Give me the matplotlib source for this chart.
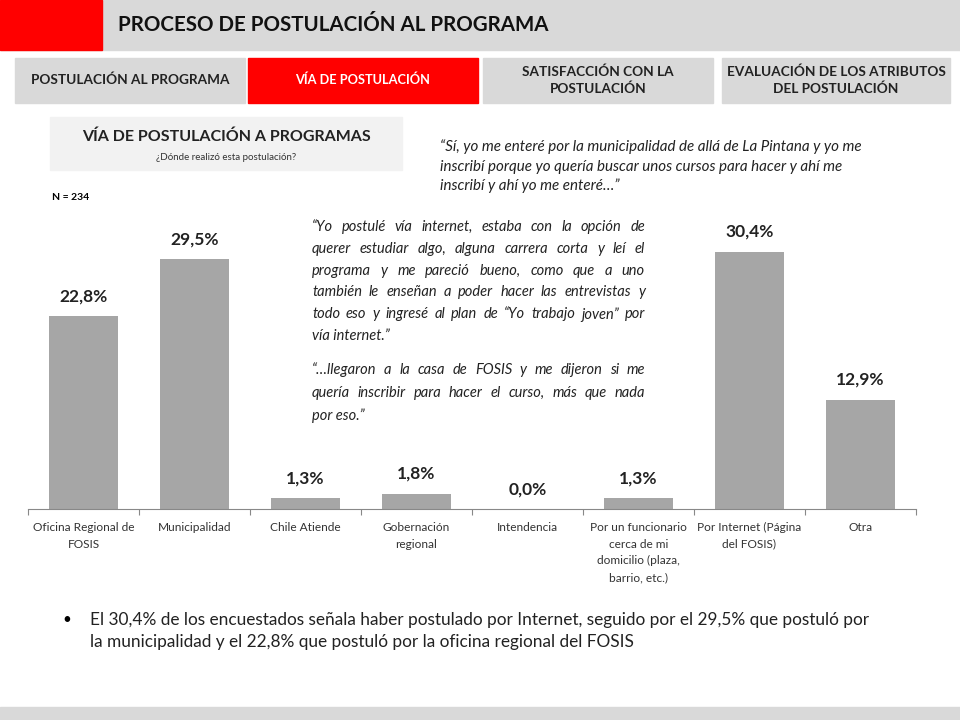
import matplotlib.pyplot as plt
from matplotlib.patches import Rectangle

plt.rcParams['font.family'] = ['Lato', 'DejaVu Sans']

categories = ["Oficina Regional de\nFOSIS", "Municipalidad", "Chile Atiende",
              "Gobernación\nregional", "Intendencia",
              "Por un funcionario\ncerca de mi\ndomicilio (plaza,\nbarrio, etc.)",
              "Por Internet (Página\ndel FOSIS)", "Otra"]
values = [22.8, 29.5, 1.3, 1.8, 0.0, 1.3, 30.4, 12.9]

tabs = ["POSTULACIÓN AL PROGRAMA", "VÍA DE POSTULACIÓN",
        "SATISFACCIÓN CON LA\nPOSTULACIÓN", "EVALUACIÓN DE LOS ATRIBUTOS\nDEL POSTULACIÓN"]

quote_top = ["“Sí, yo me enteré por la municipalidad de allá de La Pintana y yo me",
             "inscribí porque yo quería buscar unos cursos para hacer y ahí me",
             "inscribí y ahí yo me enteré…”"]
quote_mid = ["“Yo postulé vía internet, estaba con la opción de",
             "querer estudiar algo, alguna carrera corta y leí el",
             "programa y me pareció bueno, como que a uno",
             "también le enseñan a poder hacer las entrevistas y",
             "todo eso y ingresé al plan de “Yo trabajo joven” por",
             "vía internet.”"]
quote_low = ["“…llegaron a la casa de FOSIS y me dijeron si me",
             "quería inscribir para  hacer el curso, más que nada",
             "por eso.”"]
bullet_lines = ["El 30,4% de los encuestados señala haber postulado por Internet, seguido por el 29,5% que postuló por",
                "la municipalidad y el 22,8% que postuló por la oficina regional del FOSIS"]

W, H = 960, 720
RED = "#ff0000"
GREY = "#d9d9d9"


def fx(x):
    return x / W


def fy(y):
    return 1 - y / H


def box(fig, x0, y0, x1, y1, color):
    fig.patches.append(Rectangle((fx(x0), fy(y1)), (x1 - x0) / W, (y1 - y0) / H,
                                 transform=fig.transFigure, color=color, zorder=0))


# justified paragraph: spread the words of each line (but the last) across the width
def justified(fig, lines, x0, x1, y0, step, **kw):
    renderer = fig.canvas.get_renderer()
    for i, line in enumerate(lines):
        y = fy(y0 + i * step)
        words = line.split()
        if i == len(lines) - 1 or len(words) < 2:
            fig.text(fx(x0), y, line, va="center", **kw)
            continue
        arts = [fig.text(0, y, w, va="center", **kw) for w in words]
        widths = [a.get_window_extent(renderer).width for a in arts]
        gap = (x1 - x0 - sum(widths)) / (len(words) - 1)
        x = x0
        for a, w in zip(arts, widths):
            a.set_x(fx(x))
            x += w + gap


fig = plt.figure(figsize=(9.6, 7.2), dpi=100)

# header
box(fig, 0, 0, 960, 50, GREY)
box(fig, 0, 0, 102, 50, RED)
fig.text(fx(118), fy(25), "PROCESO DE POSTULACIÓN AL PROGRAMA", fontsize=14.8,
         fontweight="bold", va="center", color="#111111")

# tabs
tab_x = [(15, 245), (248, 478), (483, 713), (722, 950)]
for i, (label, (x0, x1)) in enumerate(zip(tabs, tab_x)):
    active = i == 1
    box(fig, x0, 58, x1, 103, RED if active else GREY)
    fig.text(fx((x0 + x1) / 2), fy(80), label, ha="center", va="center",
             fontsize=9.2 if active else 9.8, fontweight="bold", linespacing=1.45,
             color="white" if active else "#222222")

# subtitle box
box(fig, 50, 117, 402, 170, "#f2f2f2")
fig.text(fx(226), fy(137), "VÍA DE POSTULACIÓN A PROGRAMAS", ha="center", va="center",
         fontsize=11.5, fontweight="bold", color="#222222")
fig.text(fx(226), fy(157), "¿Dónde realizó esta postulación?", ha="center", va="center",
         fontsize=7, color="#333333")
fig.text(fx(52), fy(197), "N = 234", fontsize=7.5, fontweight="bold", va="center")

# quotes
qkw = dict(fontsize=10.5, style="italic", color="#222222")
for i, line in enumerate(quote_top):
    fig.text(fx(440), fy(147 + i * 19.5), line, va="center", fontsize=10.9,
             style="italic", color="#222222")
justified(fig, quote_mid, 312, 645, 227, 21.8, **qkw)
justified(fig, quote_low, 312, 645, 370, 23, **qkw)

# chart
ax = fig.add_axes([fx(28), fy(509), (916 - 28) / W, (509 - 212) / H])
ax.patch.set_alpha(0)
xs = list(range(len(categories)))
ax.bar(xs, values, width=0.62, color="#a6a6a6", zorder=2)
for x, v in zip(xs, values):
    ax.text(x, v + 1.4, f"{v:.1f}%".replace(".", ","), ha="center", va="bottom",
            fontsize=12.5, fontweight="bold", color="#222222")
ax.set_xlim(-0.5, len(categories) - 0.5)
ax.set_ylim(0, 35.1)
ax.set_yticks([])
for s in ["top", "left", "right"]:
    ax.spines[s].set_visible(False)
ax.spines["bottom"].set_color("#888888")
ax.set_xticks([i - 0.5 for i in range(len(categories) + 1)])
ax.set_xticklabels([])
ax.tick_params(axis="x", length=4, color="#888888")
for x, c in zip(xs, categories):
    ax.text(x, -1.5, c, ha="center", va="top", fontsize=8.6, color="#333333",
            linespacing=1.65)

# bullet text
fig.text(fx(62), fy(620), "•", fontsize=11, va="center")
for i, line in enumerate(bullet_lines):
    fig.text(fx(90), fy(620 + i * 22), line, fontsize=12.4, va="center", color="#222222")

# bottom strip
box(fig, 0, 707, 960, 720, GREY)

fig.savefig("out.png", dpi=100)
